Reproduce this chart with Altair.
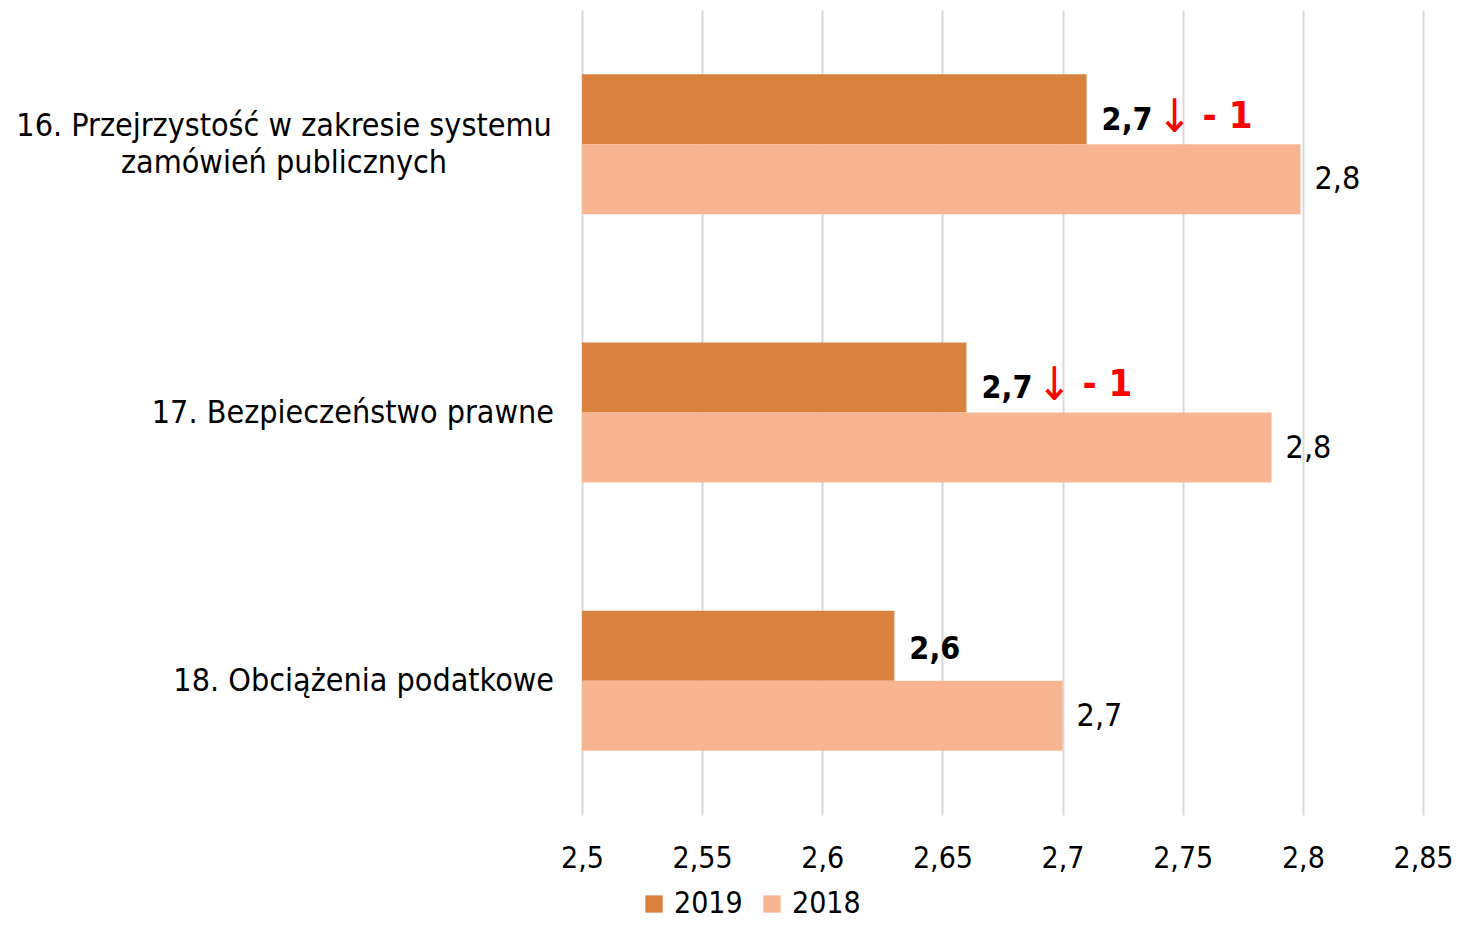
import altair as alt
import pandas as pd

# ---- data ----
cat_keys = ["16", "17", "18"]
cat_labels = [
    "16. Przejrzystość w zakresie systemu\nzamówień publicznych",
    "17. Bezpieczeństwo prawne",
    "18. Obciążenia podatkowe",
]
years = ["2019", "2018"]
values_2019 = [2.71, 2.66, 2.63]
values_2018 = [2.799, 2.787, 2.70]
rank_change = ["- 1", "- 1", ""]
x_ticks = [2.5, 2.55, 2.6, 2.65, 2.7, 2.75, 2.8, 2.85]

FONT = "DejaVu Sans Condensed, DejaVu Sans"
FS = 32
C2019 = "#D9823F"
C2018 = "#F8B592"

rows = []
for k, v19, v18, ch in zip(cat_keys, values_2019, values_2018, rank_change):
    rows.append({"cat": k, "year": "2019", "value": v19, "change": ch})
    rows.append({"cat": k, "year": "2018", "value": v18, "change": ""})
df = pd.DataFrame(rows)
df["label"] = df["value"].map(lambda v: f"{v:.1f}".replace(".", ","))

lab_df = pd.DataFrame({"cat": cat_keys, "text": cat_labels})

yscale = alt.Scale(domain=cat_keys, paddingInner=0.478, paddingOuter=0.239)
xscale = alt.Scale(domain=[2.5, 2.85], zero=False, nice=False)

base = alt.Chart(df).encode(
    y=alt.Y("cat:N", scale=yscale, axis=None),
    yOffset=alt.YOffset("year:N", sort=years, scale=alt.Scale(domain=years)),
)

bars = base.mark_bar().encode(
    x=alt.X(
        "value:Q",
        scale=xscale,
        axis=alt.Axis(
            values=x_ticks,
            format=".2~f",
            labelExpr="replace(datum.label, '.', ',')",
            title=None,
            grid=True,
            gridColor="#D9D9D9",
            gridWidth=2,
            ticks=False,
            domain=False,
            labelFlush=False,
            labelOverlap=False,
            labelFont=FONT,
            labelFontSize=30,
            labelColor="#000000",
            labelPadding=28,
        ),
    ),
    x2=alt.X2(datum=2.5),
    color=alt.Color(
        "year:N",
        scale=alt.Scale(domain=years, range=[C2019, C2018]),
        legend=alt.Legend(
            title=None,
            orient="none",
            direction="horizontal",
            legendX=57,
            legendY=879,
            symbolType="square",
            symbolSize=300,
            symbolStrokeWidth=0,
            labelFont=FONT,
            labelFontSize=30,
            labelColor="#000000",
            columnPadding=14,
            labelOffset=5,
            padding=0,
        ),
    ),
)

# value labels, 2018 (normal)
lab18 = base.transform_filter("datum.year == '2018'").mark_text(
    align="left", baseline="middle", dx=14, font=FONT, fontSize=FS, color="#000000"
).encode(x=alt.X("value:Q", scale=xscale), text="label:N")

# value labels, 2019 (bold) – with and without annotation
lab19a = base.transform_filter("datum.year == '2019' && datum.change != ''").mark_text(
    align="left", baseline="middle", dx=15, dy=11, font=FONT, fontSize=FS,
    fontWeight="bold", color="#000000"
).encode(x=alt.X("value:Q", scale=xscale), text="label:N")
lab19b = base.transform_filter("datum.year == '2019' && datum.change == ''").mark_text(
    align="left", baseline="middle", dx=15, dy=3, font=FONT, fontSize=FS,
    fontWeight="bold", color="#000000"
).encode(x=alt.X("value:Q", scale=xscale), text="label:N")

arrow = base.transform_filter("datum.change != ''").mark_text(
    align="center", baseline="middle", dx=88, dy=9, font=FONT, fontSize=46,
    color="#FF0000"
).encode(x=alt.X("value:Q", scale=xscale), text=alt.value("↓"))

chg = base.transform_filter("datum.change != ''").mark_text(
    align="left", baseline="middle", dx=116, dy=8, font=FONT, fontSize=38,
    fontWeight="bold", color="#FF0000"
).encode(x=alt.X("value:Q", scale=xscale), text="change:N")

# category labels
ylab_multi = alt.Chart(lab_df).transform_filter("datum.cat == '16'").mark_text(
    align="center", baseline="middle", lineBreak="\n", lineHeight=37, dy=-18,
    font=FONT, fontSize=FS, color="#000000"
).encode(y=alt.Y("cat:N", scale=yscale, axis=None), x=alt.value(-298), text="text:N")

ylab_single = alt.Chart(lab_df).transform_filter("datum.cat != '16'").mark_text(
    align="right", baseline="middle", font=FONT, fontSize=FS, color="#000000"
).encode(y=alt.Y("cat:N", scale=yscale, axis=None), x=alt.value(-28), text="text:N")

chart = alt.layer(
    bars, lab18, lab19a, lab19b, arrow, chg, ylab_multi, ylab_single
).properties(
    width=841,
    height=805,
    autosize=alt.AutoSizeParams(type="none"),
    padding={"left": 574, "top": 2, "right": 32, "bottom": 106},
).configure(background="#FFFFFF").configure_view(stroke=None)

chart.save("out.html", embed_options={"renderer": "svg", "actions": False})
